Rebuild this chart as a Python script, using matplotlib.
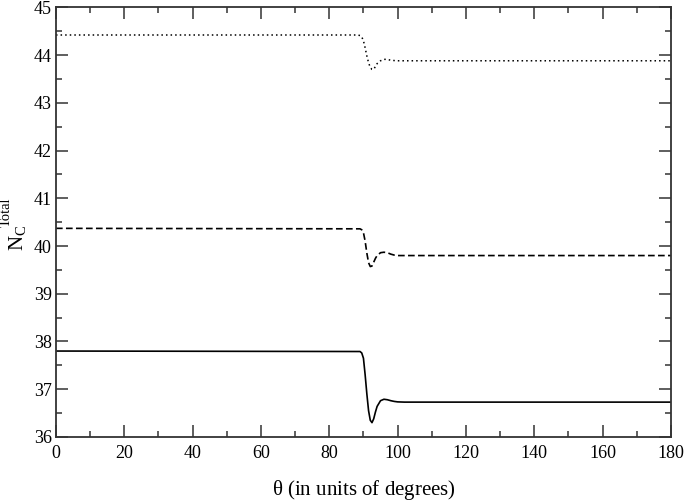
import matplotlib
matplotlib.use("Agg")
import matplotlib.pyplot as plt
from matplotlib.ticker import MultipleLocator

plt.rcParams['font.family'] = 'Liberation Serif'
plt.rcParams['mathtext.fontset'] = 'custom'
plt.rcParams['mathtext.rm'] = 'Liberation Serif'
plt.rcParams['mathtext.it'] = 'Liberation Serif'

# theta values (degrees)
theta = [0, 88, 89, 89.5, 90, 90.5, 91, 91.5, 92, 92.5, 93, 93.5, 94, 95,
         96, 97, 98, 99, 100, 102, 180]

n_solid = [37.80, 37.79, 37.79, 37.76, 37.65, 37.30, 36.90, 36.55, 36.35,
           36.30, 36.38, 36.52, 36.64, 36.76, 36.79, 36.78, 36.76, 36.745,
           36.735, 36.73, 36.73]
n_dashed = [40.37, 40.36, 40.36, 40.34, 40.28, 40.10, 39.85, 39.65, 39.57,
            39.58, 39.66, 39.74, 39.80, 39.86, 39.87, 39.86, 39.83, 39.81,
            39.80, 39.80, 39.80]
n_dotted = [44.42, 44.42, 44.41, 44.38, 44.30, 44.15, 43.98, 43.84, 43.74,
            43.70, 43.70, 43.76, 43.82, 43.88, 43.91, 43.91, 43.89, 43.885,
            43.88, 43.88, 43.88]

fig = plt.figure(figsize=(6.86, 5.04), dpi=100)
ax = fig.add_axes([0.0816, 0.133, 0.8964, 0.8525])

ax.plot(theta, n_solid, color='black', lw=1.2, ls='-')
ax.plot(theta, n_dashed, color='black', lw=1.2, ls=(0, (4, 2)))
ax.plot(theta, n_dotted, color='black', lw=1.1, ls=(0, (1, 2)))

ax.set_xlim(0, 180)
ax.set_ylim(36, 45)
ax.xaxis.set_major_locator(MultipleLocator(20))
ax.xaxis.set_minor_locator(MultipleLocator(10))
ax.yaxis.set_major_locator(MultipleLocator(1))
ax.yaxis.set_minor_locator(MultipleLocator(0.5))
ax.tick_params(which='both', direction='in', top=True, right=True,
               labelsize=13, color='#333333')
ax.tick_params(which='major', length=8.5, width=1.1, pad=3)
ax.tick_params(which='minor', length=4.3, width=1.1)
ax.tick_params(axis='x', which='major', pad=6)
for s in ax.spines.values():
    s.set_linewidth(1.3)
    s.set_color('#333333')

ax.set_xlabel(r'$\mathrm{\theta}$ (in units of degrees)', fontsize=15, labelpad=11)

# y label: N_C with "Total" raised well above, as in the original
fig.text(17/686, 1 - 238/504, r'$\mathrm{N_C}$', rotation=90, fontsize=15,
         ha='center', va='center')
fig.text(6/686, 1 - 212/504, 'Total', rotation=90, fontsize=10.5,
         ha='center', va='center')

fig.savefig('out.png', dpi=100)
